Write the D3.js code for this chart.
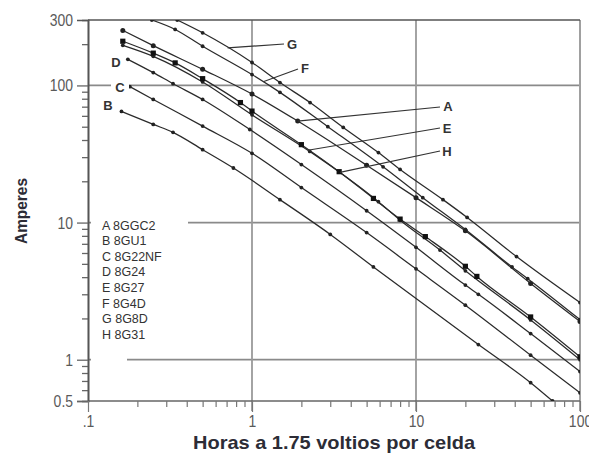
<!DOCTYPE html>
<html>
<head>
<meta charset="utf-8">
<script src="https://cdn.jsdelivr.net/npm/d3@7/dist/d3.min.js"></script>
<style>
  html, body { margin: 0; padding: 0; background: #fff; }
  svg { display: block; }
</style>
</head>
<body>
<svg id="chart" width="589" height="461"></svg>
<script>
// Discharge current (A) versus run time (h) to 1.75 V per cell, log-log.
const hourTicks = [0.1, 1, 10, 100];
const hourTickLabels = [".1", "1", "10", "100"];
const hourMinorTicks = [0.2, 0.3, 0.4, 0.5, 0.6, 0.7, 0.8, 0.9, 2, 3, 4, 5, 6, 7, 8, 9, 20, 30, 40, 50, 60, 70, 80, 90];
const ampTicks = [0.5, 1, 10, 100, 300];
const ampTickLabels = ["0.5", "1", "10", "100", "300"];
const ampMinorTicks = [0.6, 0.7, 0.8, 0.9, 2, 3, 4, 5, 6, 7, 8, 9, 20, 30, 40, 50, 60, 70, 80, 90, 200];
const ampGrid = [1, 10, 100];
const hourGrid = [1, 10];

const seriesKeys = ["A", "B", "C", "D", "E", "F", "G", "H"];
const seriesModels = ["8GGC2", "8GU1", "8G22NF", "8G24", "8G27", "8G4D", "8G8D", "8G31"];

// A 8GGC2
const hoursA = [0.163, 0.25, 0.5, 1, 1.9, 5, 10, 20, 50, 100];
const ampsA  = [252, 195, 131, 86.5, 55, 26.2, 15.2, 8.7, 3.6, 1.9];
// B 8GU1
const hoursB = [0.16, 0.25, 0.33, 0.5, 0.77, 1.48, 3, 5.5, 24, 50, 68];
const ampsB  = [64.6, 52, 45.5, 34, 25, 14.7, 8.2, 4.75, 1.29, 0.68, 0.5];
// C 8G22NF
const hoursC = [0.18, 0.25, 0.5, 1, 2, 5, 10, 20, 50, 100];
const ampsC  = [98, 79, 50.5, 32, 18, 8.45, 4.6, 2.5, 1.08, 0.574];
// D 8G24
const hoursD = [0.175, 0.25, 0.33, 0.5, 0.97, 2, 5, 10, 20, 24, 50, 100];
const ampsD  = [155, 124, 103, 79, 47.7, 26.5, 12.2, 6.6, 3.5, 3.0, 1.55, 0.82];
// E 8G27
const hoursE = [0.163, 0.25, 0.5, 1, 2.25, 5.9, 8, 14, 20, 50, 100];
const ampsE  = [196, 163, 106, 61, 33, 14.2, 10.4, 6.3, 4.45, 1.95, 1.0];
// F 8G4D
const hoursF = [0.245, 0.34, 0.5, 1, 1.48, 2.9, 6.3, 11, 20, 38.5, 48, 100];
const ampsF  = [300, 256, 193, 120, 89, 50, 25.5, 15.2, 8.9, 4.75, 3.9, 1.96];
// G 8G8D
const hoursG = [0.35, 0.5, 1, 1.48, 2.26, 3.6, 5.9, 8, 14.6, 20.5, 41, 100];
const ampsG  = [300, 242, 147, 105, 75, 49.4, 32.4, 24.4, 14.7, 10.9, 5.65, 2.61];
// H 8G31
const hoursH = [0.163, 0.25, 0.34, 0.5, 0.85, 1, 2, 3.4, 5.5, 8, 11.4, 20, 23.5, 50, 100];
const ampsH  = [210, 172, 146, 112, 75, 65, 37, 23.5, 15, 10.6, 7.9, 4.8, 4.05, 2.05, 1.05];

const seriesHours = { A: hoursA, B: hoursB, C: hoursC, D: hoursD, E: hoursE, F: hoursF, G: hoursG, H: hoursH };
const seriesAmps  = { A: ampsA,  B: ampsB,  C: ampsC,  D: ampsD,  E: ampsE,  F: ampsF,  G: ampsG,  H: ampsH };

// ---- layout ----
const svg = d3.select("#chart");
const plotL = 88, plotR = 580, plotT = 20, plotB = 401;
const x = d3.scaleLog().domain([0.1, 100]).range([plotL, plotR]);
const y = d3.scaleLog().domain([0.5, 300]).range([plotB, plotT]);

const tickFont = "'Liberation Sans', Arial, sans-serif";

function condense(sel, k) {
  sel.each(function () {
    const w = this.getComputedTextLength();
    d3.select(this).attr("textLength", w * k).attr("lengthAdjust", "spacingAndGlyphs");
  });
}

// grid lines
svg.append("g").selectAll("line").data(ampGrid).join("line")
  .attr("x1", plotL).attr("x2", plotR)
  .attr("y1", d => y(d)).attr("y2", d => y(d))
  .attr("stroke", "#8a8a8a").attr("stroke-width", 1.8);
svg.append("g").selectAll("line").data(hourGrid).join("line")
  .attr("x1", d => x(d)).attr("x2", d => x(d))
  .attr("y1", plotT).attr("y2", plotB + 10)
  .attr("stroke", "#9a9a9a").attr("stroke-width", 1.8);

// frame
svg.append("line").attr("x1", plotR).attr("x2", plotR).attr("y1", plotT).attr("y2", plotB + 10)
  .attr("stroke", "#a0a0a0").attr("stroke-width", 2);
svg.append("line").attr("x1", plotL).attr("x2", plotR).attr("y1", plotT).attr("y2", plotT)
  .attr("stroke", "#555").attr("stroke-width", 1.6);
svg.append("line").attr("x1", plotL).attr("x2", plotR).attr("y1", plotB).attr("y2", plotB)
  .attr("stroke", "#666").attr("stroke-width", 1.5);

// y axis
const yMinor = svg.append("g").attr("transform", `translate(${plotL},0)`)
  .call(d3.axisLeft(y).tickValues(ampMinorTicks).tickSize(6).tickFormat(""));
const yMajor = svg.append("g").attr("transform", `translate(${plotL},0)`)
  .call(d3.axisLeft(y).tickValues(ampTicks).tickSize(11).tickPadding(4)
    .tickFormat((d, i) => ampTickLabels[i]));
[yMinor, yMajor].forEach(g => {
  g.select(".domain").attr("stroke", "#555").attr("stroke-width", 1.6);
  g.selectAll(".tick line").attr("stroke", "#666").attr("stroke-width", 1.3);
});
yMajor.selectAll(".tick").filter(d => d === 300).select("line").remove();
yMajor.selectAll(".tick text")
  .attr("font-family", tickFont).attr("font-size", 17).attr("fill", "#5a5a5a")
  .call(condense, 0.82);

// x axis
const xMinor = svg.append("g").attr("transform", `translate(0,${plotB})`)
  .call(d3.axisBottom(x).tickValues(hourMinorTicks).tickSize(6).tickFormat(""));
const xMajor = svg.append("g").attr("transform", `translate(0,${plotB})`)
  .call(d3.axisBottom(x).tickValues(hourTicks).tickSize(11).tickPadding(3)
    .tickFormat((d, i) => hourTickLabels[i]));
[xMinor, xMajor].forEach(g => {
  g.select(".domain").remove();
  g.selectAll(".tick line").attr("stroke", "#777").attr("stroke-width", 1.2);
});
xMajor.selectAll(".tick text")
  .attr("font-family", tickFont).attr("font-size", 17).attr("fill", "#5a5a5a")
  .call(condense, 0.82);

// axis titles
svg.append("text")
  .attr("transform", "translate(27,211) rotate(-90)")
  .attr("text-anchor", "middle")
  .attr("font-family", tickFont).attr("font-weight", "bold").attr("font-size", 17)
  .attr("fill", "#2c2c36")
  .attr("textLength", 66).attr("lengthAdjust", "spacingAndGlyphs")
  .text("Amperes");
svg.append("text")
  .attr("x", 334).attr("y", 449)
  .attr("text-anchor", "middle")
  .attr("font-family", tickFont).attr("font-weight", "bold").attr("font-size", 19)
  .attr("fill", "#2c2c36")
  .attr("textLength", 282).attr("lengthAdjust", "spacingAndGlyphs")
  .text("Horas a 1.75 voltios por celda");

// legend block (masks the grid lines behind it)
svg.append("rect").attr("x", 91).attr("y", 214).attr("width", 97).attr("height", 128).attr("fill", "#fff");
svg.append("rect").attr("x", 91).attr("y", 356).attr("width", 36).attr("height", 8).attr("fill", "#fff");
svg.append("g").selectAll("text").data(seriesKeys).join("text")
  .attr("x", 102).attr("y", (d, i) => 229.5 + i * 15.6)
  .attr("font-family", tickFont).attr("font-size", 12.5).attr("fill", "#333")
  .text((d, i) => `${d} ${seriesModels[i]}`);

// curves
svg.append("clipPath").attr("id", "plot")
  .append("rect").attr("x", plotL).attr("y", plotT).attr("width", plotR - plotL).attr("height", plotB - plotT);

const line = d3.line().x(d => x(d[0])).y(d => y(d[1])).curve(d3.curveMonotoneX);
const plot = svg.append("g").attr("clip-path", "url(#plot)");

seriesKeys.forEach(k => {
  const pts = seriesHours[k].map((h, i) => [h, seriesAmps[k][i]]);
  plot.append("path").datum(pts)
    .attr("d", line).attr("fill", "none")
    .attr("stroke", "#2a2a2a").attr("stroke-width", 1.25);
  if (k === "H") {
    plot.append("g").selectAll("rect").data(pts).join("rect")
      .attr("x", d => x(d[0]) - 2.6).attr("y", d => y(d[1]) - 2.6)
      .attr("width", 5.2).attr("height", 5.2).attr("fill", "#111");
  } else {
    plot.append("g").selectAll("circle").data(pts).join("circle")
      .attr("cx", d => x(d[0])).attr("cy", d => y(d[1]))
      .attr("r", k === "A" ? 2.5 : 1.9).attr("fill", "#222");
  }
});

// value on a series at a given hour (log-log interpolation)
function ampsAt(k, h) {
  const hs = seriesHours[k], as = seriesAmps[k];
  for (let i = 0; i < hs.length - 1; i++) {
    if (h >= hs[i] && h <= hs[i + 1]) {
      const t = (Math.log(h) - Math.log(hs[i])) / (Math.log(hs[i + 1]) - Math.log(hs[i]));
      return Math.exp(Math.log(as[i]) + t * (Math.log(as[i + 1]) - Math.log(as[i])));
    }
  }
  return as[as.length - 1];
}

// callout labels
const callouts = [
  { k: "G", lx: 292, ly: 49, px: 284, py: 44, h: 0.71 },
  { k: "F", lx: 305, ly: 73, px: 298, py: 69, h: 1.17 },
  { k: "A", lx: 448, ly: 111, px: 440, py: 107, h: 1.9 },
  { k: "E", lx: 447, ly: 133, px: 440, py: 128, h: 2.19 },
  { k: "H", lx: 447, ly: 156, px: 440, py: 151, h: 3.44 }
];
callouts.forEach(c => {
  svg.append("line")
    .attr("x1", c.px).attr("y1", c.py)
    .attr("x2", x(c.h)).attr("y2", y(ampsAt(c.k, c.h)))
    .attr("stroke", "#333").attr("stroke-width", 1.2);
});
const plainLabels = [
  { k: "D", lx: 116, ly: 67 },
  { k: "C", lx: 120, ly: 92 },
  { k: "B", lx: 108, ly: 110 }
];
svg.append("rect").attr("x", 111).attr("y", 79).attr("width", 18).attr("height", 15).attr("fill", "#fff");
svg.append("g").selectAll("text").data(callouts.concat(plainLabels)).join("text")
  .attr("x", d => d.lx).attr("y", d => d.ly)
  .attr("text-anchor", "middle")
  .attr("font-family", tickFont).attr("font-weight", "bold").attr("font-size", 13)
  .attr("fill", "#333")
  .text(d => d.k);
</script>
</body>
</html>
